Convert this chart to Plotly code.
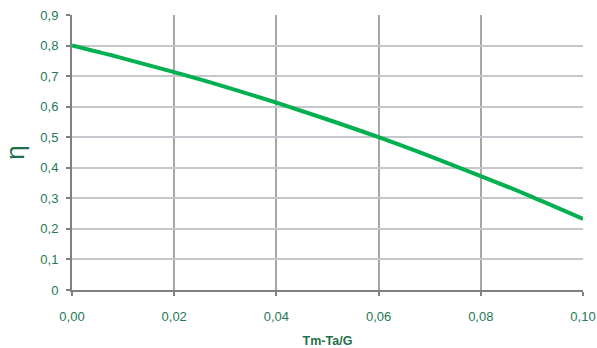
import plotly.graph_objects as go

x_vals = [0.00, 0.01, 0.02, 0.03, 0.04, 0.05, 0.06, 0.07, 0.08, 0.09, 0.10]
eta_vals = [0.800, 0.758, 0.713, 0.665, 0.613, 0.558, 0.500, 0.438, 0.373, 0.305, 0.233]

x_ticks = [0.00, 0.02, 0.04, 0.06, 0.08, 0.10]
x_tick_labels = ["0,00", "0,02", "0,04", "0,06", "0,08", "0,10"]
y_ticks = [0, 0.1, 0.2, 0.3, 0.4, 0.5, 0.6, 0.7, 0.8, 0.9]
y_tick_labels = ["0", "0,1", "0,2", "0,3", "0,4", "0,5", "0,6", "0,7", "0,8", "0,9"]

label_green = "#237a52"

fig = go.Figure()
fig.add_trace(go.Scatter(x=x_vals, y=eta_vals, mode="lines",
                         line=dict(color="#00b050", width=4, shape="spline"),
                         showlegend=False))

fig.update_layout(
    width=597, height=348,
    margin=dict(l=72, r=14, t=15, b=58, autoexpand=False),
    paper_bgcolor="white", plot_bgcolor="white",
    font=dict(family="Liberation Sans, Arial", color=label_green, size=13),
)
fig.update_xaxes(
    range=[0, 0.10], tickvals=x_ticks, ticktext=x_tick_labels,
    showline=True, linecolor="#808080", linewidth=2,
    showgrid=True, gridcolor="#a6a6a6", gridwidth=1.5,
    ticks="outside", ticklen=4, tickcolor="#808080", tickwidth=1.5,
    zeroline=False, mirror=False, ticklabelstandoff=9,
    tickfont=dict(size=13, color=label_green),
    title=dict(text="<b>Tm-Ta/G</b>", font=dict(size=12.5, color="#1f6f4a"), standoff=17),
)
fig.update_yaxes(
    range=[0, 0.9], tickvals=y_ticks, ticktext=y_tick_labels,
    showline=True, linecolor="#808080", linewidth=2,
    showgrid=True, gridcolor="#c4c7cc", gridwidth=1.5,
    ticks="outside", ticklen=4, tickcolor="#808080", tickwidth=1.5,
    zeroline=False, ticklabelstandoff=5,
    tickfont=dict(size=13, color=label_green),
    title=dict(text="η", font=dict(size=26, color="#1f6f4a"), standoff=14),
)

fig.write_html("out.html", config={"displayModeBar": False},
               post_script="document.body.style.margin='0';")
